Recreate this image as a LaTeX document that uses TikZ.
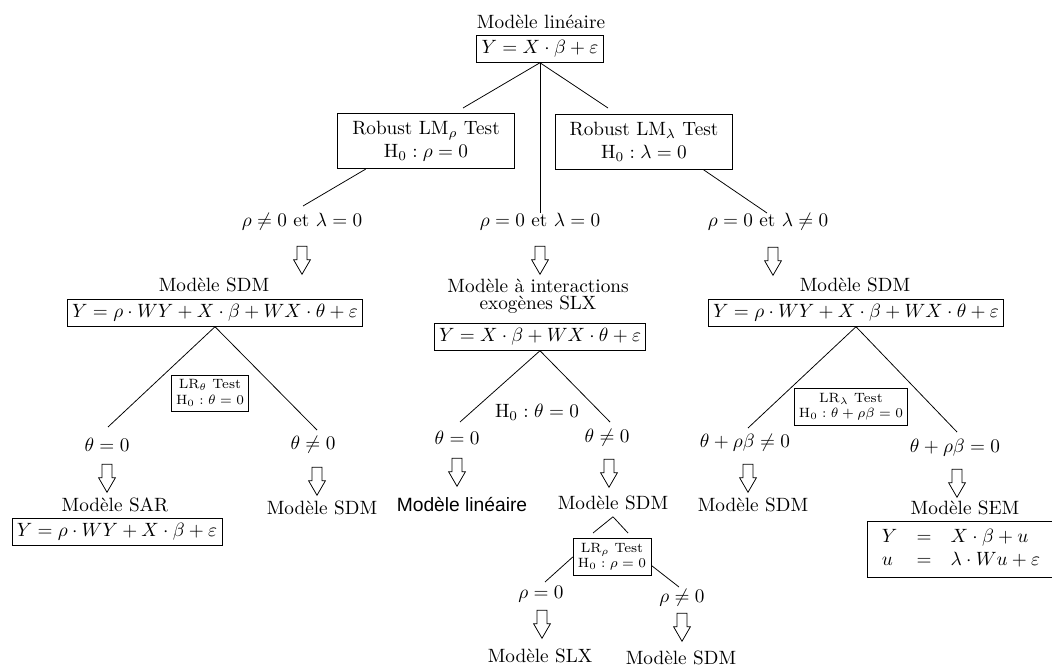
\documentclass[tikz,border=0pt]{standalone}
\usepackage{amsmath, amssymb}
\usepackage{fontspec}
\newfontfamily\sansfont{Liberation Sans}
\usetikzlibrary{shapes.arrows}
\tikzset{
    box/.style={draw, inner sep=2.5pt},
    lmbox/.style={draw, align=center, inner xsep=7.5pt, inner ysep=4pt},
    testbox/.style={draw, align=center, inner sep=2.5pt, font=\scriptsize},
    hollow/.style={draw, single arrow, rotate=-90, minimum height=14.6pt,
        inner sep=2.35pt, single arrow head extend=1.8pt, single arrow tip angle=60},
    branch/.style={line width=0.4pt}
}
\begin{document}
\begin{tikzpicture}[x=0.52pt, y=-0.52pt]
                \useasboundingbox (0,0) rectangle (1052,669);
                % niveau 0
                \node (tLin) at (541,22) {Modèle linéaire};
                \node[box] (lin) at (540,49) {$Y=X\cdot\beta+\varepsilon$};
                \node[lmbox] (lmr) at (426,141) {Robust LM$_\rho$ Test\\H$_0:\rho=0$};
                \node[lmbox] (lml) at (644,142) {Robust LM$_\lambda$ Test\\H$_0:\lambda=0$};
                \coordinate (lmrIn) at (463,108);
                \coordinate (lmlIn) at (608,108);
                \coordinate (midIn) at (540,213);
                \coordinate (leftIn) at (303,206);
                \coordinate (rightIn) at (767,213);
                \draw[branch] (lin.south) -- (lmrIn);
                \draw[branch] (lin.south) -- (lmlIn);
                \draw[branch] (lin.south) -- (midIn);
                \draw[branch] (lmr.205) -- (leftIn);
                \draw[branch] (lml.335) -- (rightIn);
                % niveau 1
                \node (cL) at (302,222) {$\rho\neq0$ et $\lambda=0$};
                \node (cM) at (540,222) {$\rho=0$ et $\lambda=0$};
                \node (cR) at (768,222) {$\rho=0$ et $\lambda\neq0$};
                \node[hollow] (aL) at (302,256) {};
                \node[hollow] (aM) at (540,256) {};
                \node[hollow] (aR) at (773,257) {};
                \node (tSdmL) at (214,285) {Modèle SDM};
                \node[box] (sdmL) at (215,313) {$Y=\rho\cdot WY+X\cdot\beta+WX\cdot\theta+\varepsilon$};
                \node[align=center] (tSlx) at (538,296) {Modèle à interactions\\[-3pt]exogènes SLX};
                \node[box] (slx) at (540,337) {$Y=X\cdot\beta+WX\cdot\theta+\varepsilon$};
                \node (tSdmR) at (855,285) {Modèle SDM};
                \node[box] (sdmR) at (856,313) {$Y=\rho\cdot WY+X\cdot\beta+WX\cdot\theta+\varepsilon$};
                % branche gauche
                \coordinate (lA) at (108,427);
                \coordinate (lB) at (317,430);
                \draw[branch] (sdmL.south) -- (lA);
                \draw[branch] (sdmL.south) -- (lB);
                \node[testbox] (lrT) at (210,393) {LR$_\theta$ Test\\H$_0:\theta=0$};
                \node (lA0) at (107,445) {$\theta=0$};
                \node[hollow] (lAa) at (107,474) {};
                \node (tSar) at (115,505) {Modèle SAR};
                \node[box] (sar) at (117,532) {$Y=\rho\cdot WY+X\cdot\beta+\varepsilon$};
                \node (lB0) at (313,445) {$\theta\neq0$};
                \node[hollow] (lBa) at (317,477) {};
                \node (lBm) at (322,508) {Modèle SDM};
                % branche du milieu
                \coordinate (mA) at (460,422);
                \coordinate (mB) at (610,422);
                \draw[branch] (slx.south) -- (mA);
                \draw[branch] (slx.south) -- (mB);
                \node (mH) at (537,412) {H$_0:\theta=0$};
                \node (mA0) at (457,438) {$\theta=0$};
                \node[hollow] (mAa) at (457,468) {};
                \node[font=\sansfont] (mAm) at (462,505) {Modèle linéaire};
                \node (mB0) at (607,438) {$\theta\neq0$};
                \node[hollow] (mBa) at (609,469) {};
                \node (mBm) at (613,503) {Modèle SDM};
                \node[testbox] (lrR) at (612,557) {LR$_\rho$ Test\\H$_0:\rho=0$};
                \coordinate (vA) at (593,533);
                \coordinate (vB) at (628,533);
                \coordinate (sA) at (545,582);
                \coordinate (sB) at (679,587);
                \draw[branch] (mBm.south) -- (vA);
                \draw[branch] (mBm.south) -- (vB);
                \draw[branch] (lrR.west) -- (sA);
                \draw[branch] (lrR.-12) -- (sB);
                \node (sA0) at (541,594) {$\rho=0$};
                \node[hollow] (sAa) at (542,620) {};
                \node (sAm) at (540,656) {Modèle SLX};
                \node (sB0) at (682,598) {$\rho\neq0$};
                \node[hollow] (sBa) at (682,623) {};
                \node (sBm) at (681,658) {Modèle SDM};
                % branche droite
                \coordinate (rA) at (748,428);
                \coordinate (rB) at (957,432);
                \draw[branch] (sdmR.south) -- (rA);
                \draw[branch] (sdmR.south) -- (rB);
                \node[testbox] (lrL) at (851,407) {LR$_\lambda$ Test\\H$_0:\theta+\rho\beta=0$};
                \node (rA0) at (745,443) {$\theta+\rho\beta\neq0$};
                \node[hollow] (rAa) at (748,474) {};
                \node (rAm) at (753,505) {Modèle SDM};
                \node (rB0) at (955,448) {$\theta+\rho\beta=0$};
                \node[hollow] (rBa) at (957,479) {};
                \node (tSem) at (965,508) {Modèle SEM};
                \node[box] (sem) at (961,549) {$\begin{array}{lcl}Y&=&X\cdot\beta+u\\u&=&\lambda\cdot Wu+\varepsilon\end{array}$};
            \end{tikzpicture}
\end{document}
